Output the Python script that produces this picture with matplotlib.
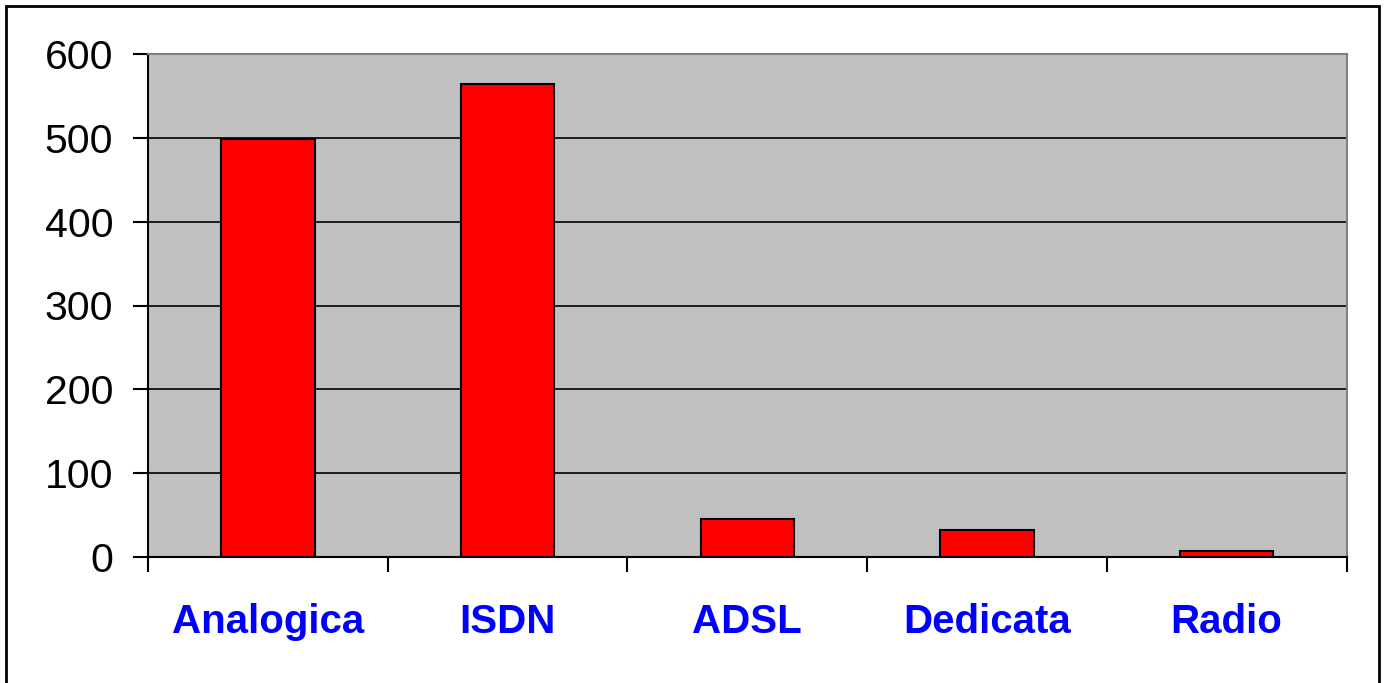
import matplotlib
matplotlib.use("Agg")
import matplotlib.pyplot as plt
from matplotlib.patches import Rectangle

categories = ["Analogica", "ISDN", "ADSL", "Dedicata", "Radio"]
values = [499, 564, 45, 32, 7]
y_ticks = [0, 100, 200, 300, 400, 500, 600]

plt.rcParams['font.family'] = ['Liberation Sans', 'DejaVu Sans']

fig = plt.figure(figsize=(13.86, 6.83), dpi=100)
ax = fig.add_axes([148/1386, 1-557/683, (1346.5-148)/1386, (557-54)/683])
ax.set_facecolor('#C0C0C0')

x = list(range(len(categories)))
ax.bar(x, values, width=0.39, color='#FF0000', edgecolor='black', linewidth=1.5, zorder=3)

ax.set_xlim(-0.5, len(categories) - 0.5)
ax.set_ylim(0, 600)
ax.set_yticks(y_ticks)
ax.set_yticklabels([str(v) for v in y_ticks], fontsize=29.5)
ax.yaxis.grid(True, color='black', linewidth=1.2, zorder=1)
ax.set_axisbelow(True)

# boundaries as major ticks, labels at centers via minor ticks
ax.set_xticks([i - 0.5 for i in range(len(categories) + 1)])
ax.set_xticklabels([])
ax.set_xticks(x, minor=True)
ax.set_xticklabels(categories, minor=True, fontsize=29, fontweight='bold', color='#0000FF')
ax.tick_params(axis='x', which='minor', length=0, pad=33)
ax.tick_params(axis='x', which='major', length=11, width=1.5, direction='out')
ax.tick_params(axis='y', length=11, width=1.5, direction='out', pad=14)

for s in ['left', 'bottom']:
    ax.spines[s].set_color('black')
    ax.spines[s].set_linewidth(1.5)
for s in ['top', 'right']:
    ax.spines[s].set_color('#808080')
    ax.spines[s].set_linewidth(1.5)

fig.patches.append(Rectangle((6/1386, -0.05), (1379-6)/1386, 1.05 - 6/683,
                             transform=fig.transFigure, fill=False,
                             edgecolor='black', linewidth=2))

fig.savefig("out.png", dpi=100)
